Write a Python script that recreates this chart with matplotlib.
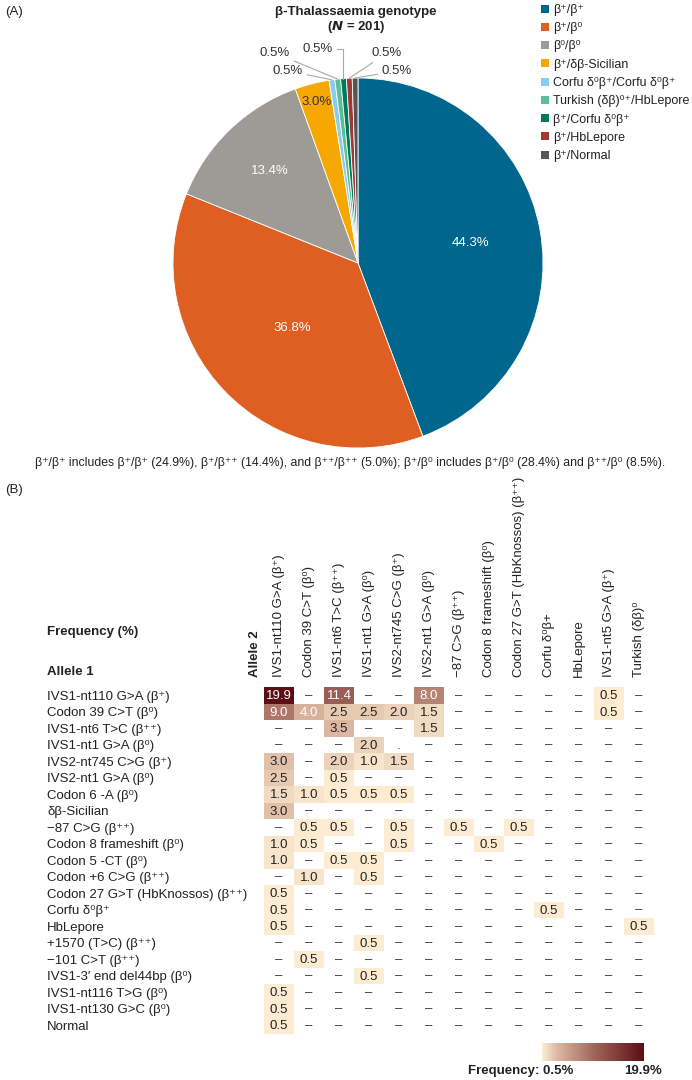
import numpy as np
import matplotlib
matplotlib.use("Agg")
import matplotlib.pyplot as plt
from matplotlib.colors import LinearSegmentedColormap
from matplotlib.cm import ScalarMappable
from matplotlib.colors import Normalize
from matplotlib.patches import Patch

plt.rcParams['font.family'] = ['Liberation Sans', 'DejaVu Sans']
plt.rcParams['font.size'] = 9.5

# ---------------- data ----------------
genotypes = ["β⁺/β⁺", "β⁺/β⁰", "β⁰/β⁰", "β⁺/δβ-Sicilian",
             "Corfu δ⁰β⁺/Corfu δ⁰β⁺", "Turkish (δβ)⁰⁺/HbLepore",
             "β⁺/Corfu δ⁰β⁺", "β⁺/HbLepore", "β⁺/Normal"]
genotype_pct = [44.3, 36.8, 13.4, 3.0, 0.5, 0.5, 0.5, 0.5, 0.5]
genotype_colors = ["#00668E", "#DF5E22", "#9E9A96", "#F6A800", "#86CDEE",
                   "#5BBE96", "#007A5C", "#9E3A33", "#555555"]

allele2 = ["IVS1-nt110 G>A (β⁺)", "Codon 39 C>T (β⁰)", "IVS1-nt6 T>C (β⁺⁺)",
           "IVS1-nt1 G>A (β⁰)", "IVS2-nt745 C>G (β⁺)", "IVS2-nt1 G>A (β⁰)",
           "−87 C>G (β⁺⁺)", "Codon 8 frameshift (β⁰)",
           "Codon 27 G>T (HbKnossos) (β⁺⁺)", "Corfu δ⁰β+", "HbLepore",
           "IVS1-nt5 G>A (β⁺)", "Turkish (δβ)⁰"]
allele1 = ["IVS1-nt110 G>A (β⁺)", "Codon 39 C>T (β⁰)", "IVS1-nt6 T>C (β⁺⁺)",
           "IVS1-nt1 G>A (β⁰)", "IVS2-nt745 C>G (β⁺)", "IVS2-nt1 G>A (β⁰)",
           "Codon 6 -A (β⁰)", "δβ-Sicilian", "−87 C>G (β⁺⁺)",
           "Codon 8 frameshift (β⁰)", "Codon 5 -CT (β⁰)", "Codon +6 C>G (β⁺⁺)",
           "Codon 27 G>T (HbKnossos) (β⁺⁺)", "Corfu δ⁰β⁺", "HbLepore",
           "+1570 (T>C) (β⁺⁺)", "−101 C>T (β⁺⁺)", "IVS1-3′ end del44bp (β⁰)",
           "IVS1-nt116 T>G (β⁰)", "IVS1-nt130 G>C (β⁰)", "Normal"]
freq = np.array([
    [19.9, 0, 11.4, 0, 0, 8.0, 0, 0, 0, 0, 0, 0.5, 0],
    [9.0, 4.0, 2.5, 2.5, 2.0, 1.5, 0, 0, 0, 0, 0, 0.5, 0],
    [0, 0, 3.5, 0, 0, 1.5, 0, 0, 0, 0, 0, 0, 0],
    [0, 0, 0, 2.0, 0, 0, 0, 0, 0, 0, 0, 0, 0],
    [3.0, 0, 2.0, 1.0, 1.5, 0, 0, 0, 0, 0, 0, 0, 0],
    [2.5, 0, 0.5, 0, 0, 0, 0, 0, 0, 0, 0, 0, 0],
    [1.5, 1.0, 0.5, 0.5, 0.5, 0, 0, 0, 0, 0, 0, 0, 0],
    [3.0, 0, 0, 0, 0, 0, 0, 0, 0, 0, 0, 0, 0],
    [0, 0.5, 0.5, 0, 0.5, 0, 0.5, 0, 0.5, 0, 0, 0, 0],
    [1.0, 0.5, 0, 0, 0.5, 0, 0, 0.5, 0, 0, 0, 0, 0],
    [1.0, 0, 0.5, 0.5, 0, 0, 0, 0, 0, 0, 0, 0, 0],
    [0, 1.0, 0, 0.5, 0, 0, 0, 0, 0, 0, 0, 0, 0],
    [0.5, 0, 0, 0, 0, 0, 0, 0, 0, 0, 0, 0, 0],
    [0.5, 0, 0, 0, 0, 0, 0, 0, 0, 0.5, 0, 0, 0],
    [0.5, 0, 0, 0, 0, 0, 0, 0, 0, 0, 0, 0, 0.5],
    [0, 0, 0, 0.5, 0, 0, 0, 0, 0, 0, 0, 0, 0],
    [0, 0.5, 0, 0, 0, 0, 0, 0, 0, 0, 0, 0, 0],
    [0, 0, 0, 0.5, 0, 0, 0, 0, 0, 0, 0, 0, 0],
    [0.5, 0, 0, 0, 0, 0, 0, 0, 0, 0, 0, 0, 0],
    [0.5, 0, 0, 0, 0, 0, 0, 0, 0, 0, 0, 0, 0],
    [0.5, 0, 0, 0, 0, 0, 0, 0, 0, 0, 0, 0, 0],
])
dot_cells = [(3, 4)]  # cell printed as "." in the source
freq_min, freq_max = 0.5, 19.9

footnote = ("β⁺/β⁺ includes β⁺/β⁺ (24.9%), β⁺/β⁺⁺ (14.4%), and β⁺⁺/β⁺⁺ (5.0%); "
            "β⁺/β⁰ includes β⁺/β⁰ (28.4%) and β⁺⁺/β⁰ (8.5%).")

# ---------------- figure ----------------
W, H = 692, 1080
fig = plt.figure(figsize=(W / 100, H / 100), dpi=100)

def fx(x):
    return x / W

def fy(y):
    return 1 - y / H

# ---- (A) pie ----
cx, cy, R = 358, 263, 185
axp = fig.add_axes([fx(cx - R), fy(cy + R), 2 * R / W, 2 * R / H])
wedges, _ = axp.pie(genotype_pct, colors=genotype_colors, startangle=90,
                    counterclock=False, radius=1.0,
                    wedgeprops=dict(edgecolor="white", linewidth=0.6))
axp.set_xlim(-1, 1)
axp.set_ylim(-1, 1)
axp.set_aspect("auto")
axp.axis("off")

inner_dist = [0.62, 0.5, 0.69, 0.9]
inner_col = ["white", "white", "white", "#333333"]
for i in range(4):
    w = wedges[i]
    th = np.deg2rad((w.theta1 + w.theta2) / 2)
    axp.text(inner_dist[i] * np.cos(th), inner_dist[i] * np.sin(th),
             f"{genotype_pct[i]:.1f}%", ha="center", va="center",
             color=inner_col[i], fontsize=9.5)

small_label_pos = [(-0.378, 1.038), (-0.449, 1.135), (-0.216, 1.157),
                   (0.157, 1.135), (0.211, 1.038)]
for k, i in enumerate(range(4, 9)):
    w = wedges[i]
    th = np.deg2rad((w.theta1 + w.theta2) / 2)
    tx, ty = small_label_pos[k]
    conn = "arc3"
    if k == 2:
        conn = "angle,angleA=0,angleB=90,rad=0"
    axp.annotate(f"{genotype_pct[i]:.1f}%", xy=(np.cos(th), np.sin(th)),
                 xytext=(tx, ty), ha="center", va="center", color="#333333",
                 fontsize=9.5, annotation_clip=False,
                 arrowprops=dict(arrowstyle="-", color="#A8A8A8", lw=0.8,
                                 shrinkA=1, shrinkB=0, connectionstyle=conn))

fig.text(fx(356), fy(12), "β-Thalassaemia genotype", ha="center", va="center",
         fontweight="bold", fontsize=9.5, color="#222222")
fig.text(fx(356), fy(27), r"($\bfit{N}$ = 201)", ha="center", va="center",
         fontweight="bold", fontsize=9.5, color="#222222")
fig.text(fx(5), fy(12), "(A)", ha="left", va="center", fontsize=9.5, color="#222222")

# legend
handles = [Patch(facecolor=c, edgecolor="none") for c in genotype_colors]
leg = fig.legend(handles, genotypes, loc="upper left",
                 bbox_to_anchor=(fx(536), fy(-1)), frameon=False,
                 handlelength=0.6, handleheight=0.6, handletextpad=0.35,
                 labelspacing=0.5, fontsize=9, borderaxespad=0)
for t in leg.get_texts():
    t.set_color("#222222")

fig.text(fx(35), fy(463), footnote, ha="left", va="center", fontsize=8.8,
         color="#222222")

# ---- (B) heatmap ----
fig.text(fx(5), fy(490), "(B)", ha="left", va="center", fontsize=9.5, color="#222222")

cmap = LinearSegmentedColormap.from_list(
    "freq", [(0.0, "#FDECD2"), (0.15, "#DBB8A2"), (0.5, "#A2685C"), (1.0, "#5C0E14")])
cmap.set_bad("white")

nr, nc = freq.shape
cell_w, cell_h = 30, 16.5
hx0, hy0 = 264, 687
axh = fig.add_axes([fx(hx0), fy(hy0 + nr * cell_h), nc * cell_w / W, nr * cell_h / H])
masked = np.ma.masked_less_equal(freq, 0)
axh.pcolormesh(np.arange(nc + 1), np.arange(nr + 1), masked, cmap=cmap,
               vmin=freq_min, vmax=freq_max, shading="flat")
axh.set_xlim(0, nc)
axh.set_ylim(nr, 0)
for s in axh.spines.values():
    s.set_visible(False)

for i in range(nr):
    for j in range(nc):
        v = freq[i, j]
        if (i, j) in dot_cells:
            txt, col = ".", "#333333"
        elif v <= 0:
            txt, col = "–", "#333333"
        else:
            txt = f"{v:.1f}"
            col = "white" if v >= 4.0 else "#222222"
        axh.text(j + 0.5, i + 0.55, txt, ha="center", va="center",
                 fontsize=9.5, color=col)

axh.set_yticks(np.arange(nr) + 0.5)
axh.set_yticklabels(allele1, ha="left", color="#222222", fontsize=9.5)
axh.tick_params(axis="y", length=0, pad=(hx0 - 47) * 72 / 100)
axh.xaxis.tick_top()
axh.set_xticks(np.arange(nc) + 0.5)
axh.set_xticklabels(allele2, rotation=90, ha="center", va="bottom",
                    color="#222222", fontsize=9.5)
axh.tick_params(axis="x", length=0, pad=7)

fig.text(fx(47), fy(632), "Frequency (%)", ha="left", va="center",
         fontweight="bold", fontsize=9.5, color="#222222")
fig.text(fx(47), fy(672), "Allele 1", ha="left", va="center",
         fontweight="bold", fontsize=9.5, color="#222222")
fig.text(fx(255), fy(677), "Allele 2", ha="center", va="bottom", rotation=90,
         fontweight="bold", fontsize=9.5, color="#222222")

# colorbar
cax = fig.add_axes([fx(542), fy(1061), 102 / W, 18 / H])
cb = fig.colorbar(ScalarMappable(norm=Normalize(freq_min, freq_max), cmap=cmap),
                  cax=cax, orientation="horizontal")
cb.set_ticks([])
cb.outline.set_visible(False)
fig.text(fx(573), fy(1071), f"Frequency: {freq_min}%", ha="right", va="center",
         fontweight="bold", fontsize=9.5, color="#222222")
fig.text(fx(662), fy(1071), f"{freq_max}%", ha="right", va="center",
         fontweight="bold", fontsize=9.5, color="#222222")

fig.savefig("out.png", dpi=100)
